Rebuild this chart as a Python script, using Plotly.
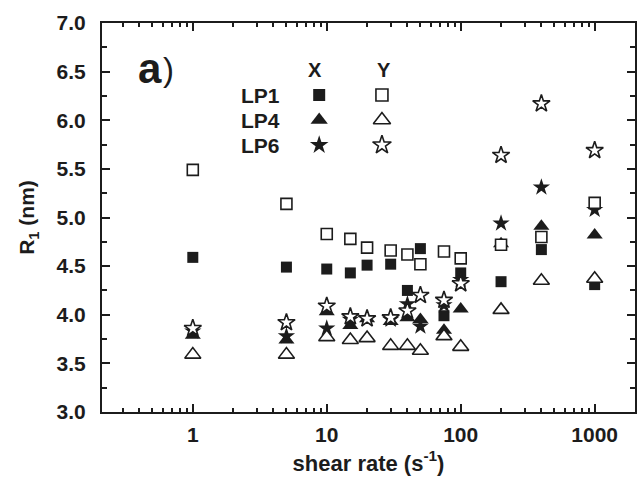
import numpy as np
import plotly.graph_objects as go

# shear rates (s^-1)
shear_rate = [1, 5, 10, 15, 20, 30, 40, 50, 75, 100, 200, 400, 1000]

# R1 (nm) for each sample, X and Y directions
lp1_x = [4.59, 4.49, 4.47, 4.43, 4.51, 4.52, 4.25, 4.68, 3.99, 4.43, 4.34, 4.67, 4.31]
lp1_y = [5.49, 5.14, 4.83, 4.78, 4.69, 4.66, 4.62, 4.52, 4.65, 4.58, 4.72, 4.80, 5.15]
lp4_x = [3.79, 3.74, 4.03, 3.89, 3.96, 3.93, 3.97, 3.95, 3.84, 4.06, 4.73, 4.91, 4.82]
lp4_y = [3.59, 3.59, 3.77, 3.74, 3.76, 3.68, 3.68, 3.63, 3.78, 3.67, 4.05, 4.35, 4.37]
lp6_x = [3.83, 3.78, 3.86, 3.95, 3.96, 3.95, 4.11, 3.88, 4.10, 4.36, 4.94, 5.31, 5.08]
lp6_y = [3.86, 3.92, 4.09, 3.98, 3.96, 3.97, 4.04, 4.20, 4.15, 4.32, 5.64, 6.17, 5.69]

samples = ["LP1", "LP4", "LP6"]
symbols = ["square", "triangle-up", "star"]
sizes = [11, 14, 13]

W, H = 638, 489
L, R, T, B = 102, 1, 23, 77
FONT = "Liberation Sans, Arial, sans-serif"
INK = "#1c1c1c"

fig = go.Figure()

def filled(sym, size):
    return dict(symbol=sym, size=size, color=INK, line=dict(width=0))

def hollow(sym, size):
    return dict(symbol=sym, size=size, color="white", line=dict(width=1.6, color=INK))

# filled markers (X) first, hollow (Y) on top
for name, vals, sym, sz in zip(samples, [lp1_x, lp4_x, lp6_x], symbols, sizes):
    fig.add_trace(go.Scatter(x=shear_rate, y=vals, mode="markers", name=name + " X",
                             marker=filled(sym, sz), showlegend=False))
for name, vals, sym, sz in zip(samples, [lp1_y, lp4_y, lp6_y], symbols, sizes):
    fig.add_trace(go.Scatter(x=shear_rate, y=vals, mode="markers", name=name + " Y",
                             marker=hollow(sym, sz), showlegend=False))

# key: a pixel-space overlay holding the legend symbols
key_x_filled, key_x_hollow = 320, 383
key_rows = [95, 120, 145]
for sym, sz, ky in zip(symbols, sizes, key_rows):
    fig.add_trace(go.Scatter(x=[key_x_filled], y=[ky], mode="markers", xaxis="x2", yaxis="y2",
                             marker=filled(sym, sz + 1), showlegend=False, hoverinfo="skip"))
    fig.add_trace(go.Scatter(x=[key_x_hollow], y=[ky], mode="markers", xaxis="x2", yaxis="y2",
                             marker=hollow(sym, sz + 1), showlegend=False, hoverinfo="skip"))

def px(x, y):
    return (x - L) / (W - L - R), (H - B - y) / (H - T - B)

annotations = []
def label(text, x, y, size, weight="bold", xanchor="center"):
    ax, ay = px(x, y)
    annotations.append(dict(text=text, x=ax, y=ay, xref="paper", yref="paper",
                            showarrow=False, xanchor=xanchor, yanchor="middle",
                            font=dict(family=FONT, size=size, color=INK, weight=weight)))

label("a", 150, 68, 42)
label(")", 169, 70, 33, weight="normal")
label("X", 316, 70, 20)
label("Y", 385, 70, 20)
for name, ky in zip(samples, key_rows):
    label(name, 261, ky, 21)

axis_common = dict(showline=True, linewidth=2, linecolor=INK, mirror="ticks",
                   ticks="inside", tickwidth=2, tickcolor=INK, showgrid=False,
                   zeroline=False, tickfont=dict(family=FONT, size=21, color=INK, weight="bold"))

fig.update_layout(
    width=W, height=H,
    margin=dict(l=L, r=R, t=T, b=B),
    paper_bgcolor="white", plot_bgcolor="white",
    font=dict(family=FONT, color=INK),
    annotations=annotations,
    xaxis=dict(type="log", range=[np.log10(0.21), np.log10(2000)],
               tickvals=[1, 10, 100, 1000], ticktext=["1", "10", "100", "1000"],
               ticklen=8, ticklabelstandoff=3,
               minor=dict(ticks="inside", ticklen=4, tickwidth=1.5, tickcolor=INK,
                          tickvals=[m * 10.0 ** e for e in range(-1, 4) for m in range(2, 10)
                                    if 0.2 <= m * 10.0 ** e <= 2000 and m != 1]),
               title=dict(text="shear rate (s<sup>-1</sup>)", standoff=10,
                          font=dict(family=FONT, size=22, color=INK, weight="bold")),
               **axis_common),
    yaxis=dict(range=[3, 7], dtick=0.5, tickformat=".1f", ticklen=8, ticklabelstandoff=10,
               minor=dict(ticks="inside", ticklen=5, tickwidth=1.5, tickcolor=INK, dtick=0.25),
               title=dict(text="R<sub>1</sub> (nm)", standoff=16,
                          font=dict(family=FONT, size=21, color=INK, weight="bold")),
               **axis_common),
    xaxis2=dict(overlaying="x", range=[L, W - R], visible=False, fixedrange=True),
    yaxis2=dict(overlaying="y", range=[H - B, T], visible=False, fixedrange=True),
)

fig.write_html("out.html")
